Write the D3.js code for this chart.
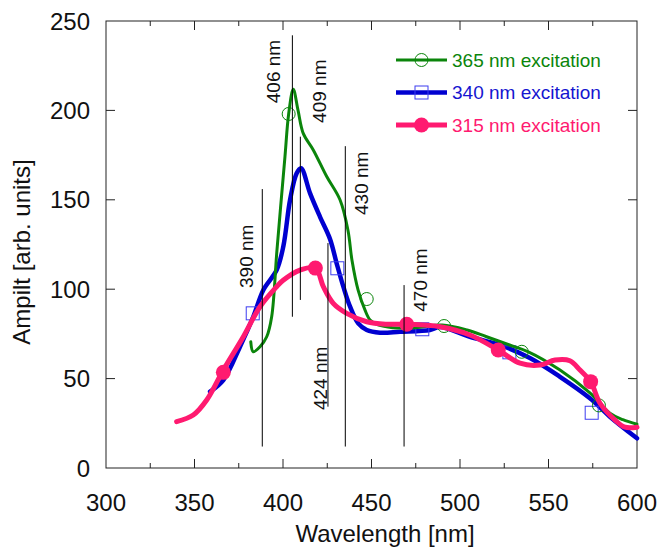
<!DOCTYPE html>
<html>
<head>
<meta charset="utf-8">
<script src="https://cdn.jsdelivr.net/npm/d3@7"></script>
<style>
	body { margin: 0; background: #fff; }
	text { font-family: Arial, "Liberation Sans", sans-serif; }
</style>
</head>
<body>
<div id="chart"></div>
<script>
// 365 nm excitation (green)
const greenX = [381.8, 383.2, 387, 390.8, 393.6, 396.6, 401.1, 403.2, 405.8, 408.5, 411.5, 417.1, 424.7, 432.2, 436.7, 439, 442.4, 446.3, 449.2, 453.7, 462, 475, 490, 504, 515, 528, 538.6, 556.5, 573.4, 584.7, 592, 600];
const greenY = [70.6, 65, 67.8, 73.4, 84.6, 122, 174, 198, 211.8, 200, 187, 177.9, 163, 150, 133, 116, 99.6, 88.4, 82.8, 80, 78.5, 78.5, 80, 77.2, 73.4, 68.8, 65, 54.8, 42, 30.7, 27, 24.5];
const greenMarks = [[403.2, 198], [447.3, 94.5], [491, 79.4], [534.9, 65], [578.5, 35]];

// 340 nm excitation (blue)
const blueX = [358.8, 366.3, 375.7, 383.2, 388.9, 396.4, 400.2, 404, 407.7, 410.2, 415.3, 420.9, 426.6, 430.3, 434.1, 437.9, 442.5, 447.3, 454.8, 466.1, 483, 488.7, 505.6, 522.6, 539.5, 556.5, 573.4, 584.7, 600];
const blueY = [42.7, 49.2, 67.8, 84.6, 99.6, 110.7, 124, 150, 164.8, 167.6, 153.6, 140.5, 128, 114.5, 101.4, 90.2, 80.9, 77.2, 75.7, 76.2, 77.2, 78.9, 73.4, 68.8, 61.5, 51, 39, 28.7, 16.6];
const blueMarks = [[382.9, 86.5], [430.7, 111.7], [478.7, 77.6], [527.9, 64.7], [574.4, 30.9]];

// 315 nm excitation (pink)
const pinkX = [339.9, 349.3, 356.9, 366.3, 377.6, 387, 396.4, 400.1, 409.6, 418.3, 422.8, 428.4, 436, 447.3, 458.6, 469.9, 488.7, 505.6, 521.6, 533.9, 545.2, 553.7, 562.1, 567.8, 573.8, 579.1, 587.6, 593.2, 600];
const pinkY = [25.9, 29.6, 38, 54.8, 73.4, 90.2, 101.4, 105, 110.7, 111.8, 101.4, 92.1, 86.5, 81.8, 80.4, 80.4, 79, 74.4, 66, 58.6, 57.6, 60.4, 60, 54.8, 48.3, 36.2, 26.8, 22.8, 22.8];
const pinkMarks = [[366.3, 53.5], [418.3, 111.8], [469.9, 80.4], [521.6, 66], [573.8, 48.3]];

const seriesNames = ['365 nm excitation', '340 nm excitation', '315 nm excitation'];

// peak markers: label, line x, line top/bottom, label anchor (x, y)
const annLabels = ['406 nm', '409 nm', '390 nm', '424 nm', '430 nm', '470 nm'];
const annX = [405.3, 409.8, 388.3, 425.4, 435.2, 468.4];
const annTop = [242, 185.3, 156, 125.8, 180, 102.3];
const annBottom = [84.6, 94, 12, 34.3, 12, 12];
const annTextX = [398.3, 424.3, 383.2, 424.7, 448, 481.2];
const annTextY = [204, 193, 100.7, 32.4, 141.5, 87.4];

const xTicks = [300, 350, 400, 450, 500, 550, 600];
const xMinorTicks = [325, 375, 425, 475, 525, 575];
const yTicks = [0, 50, 100, 150, 200, 250];

const width = 660;
const height = 548;
const margin = { top: 21, right: 23, bottom: 80, left: 106 };

const x = d3.scaleLinear()
	.domain([300, 600])
	.range([margin.left, width - margin.right]);

const y = d3.scaleLinear()
	.domain([0, 250])
	.range([height - margin.bottom, margin.top]);

const svg = d3.select('#chart')
	.append('svg')
	.attr('width', width)
	.attr('height', height);

// frame
svg.append('rect')
	.attr('x', x(300))
	.attr('y', y(250))
	.attr('width', x(600) - x(300))
	.attr('height', y(0) - y(250))
	.attr('fill', 'none')
	.attr('stroke', '#222')
	.attr('stroke-width', 1);

// inward ticks on all four sides
const tickG = svg.append('g')
	.attr('stroke', '#222')
	.attr('stroke-width', 1);

xTicks.slice(1, -1).forEach((t) => {
	tickG.append('line').attr('x1', x(t)).attr('x2', x(t)).attr('y1', y(0)).attr('y2', y(0) - 9);
	tickG.append('line').attr('x1', x(t)).attr('x2', x(t)).attr('y1', y(250)).attr('y2', y(250) + 9);
});
xMinorTicks.forEach((t) => {
	tickG.append('line').attr('x1', x(t)).attr('x2', x(t)).attr('y1', y(0)).attr('y2', y(0) - 5);
	tickG.append('line').attr('x1', x(t)).attr('x2', x(t)).attr('y1', y(250)).attr('y2', y(250) + 5);
});
yTicks.slice(1, -1).forEach((t) => {
	tickG.append('line').attr('x1', x(300)).attr('x2', x(300) + 9).attr('y1', y(t)).attr('y2', y(t));
	tickG.append('line').attr('x1', x(600)).attr('x2', x(600) - 9).attr('y1', y(t)).attr('y2', y(t));
});

// tick labels
svg.append('g')
	.selectAll('text')
	.data(xTicks)
	.join('text')
	.attr('x', (d) => x(d))
	.attr('y', 511)
	.attr('text-anchor', 'middle')
	.attr('font-size', 24)
	.attr('fill', '#111')
	.text((d) => d);

svg.append('g')
	.selectAll('text')
	.data(yTicks)
	.join('text')
	.attr('x', 90)
	.attr('y', (d) => y(d))
	.attr('dy', '.36em')
	.attr('text-anchor', 'end')
	.attr('font-size', 24)
	.attr('fill', '#111')
	.text((d) => d);

// axis titles
svg.append('text')
	.attr('x', 385)
	.attr('y', 542)
	.attr('text-anchor', 'middle')
	.attr('font-size', 24)
	.attr('fill', '#111')
	.text('Wavelength [nm]');

svg.append('text')
	.attr('transform', 'translate(30,252) rotate(-90)')
	.attr('text-anchor', 'middle')
	.attr('font-size', 24)
	.attr('fill', '#111')
	.text('Ampilt [arb. units]');

// curves
const series = [
	{ name: seriesNames[0], xs: greenX, ys: greenY, marks: greenMarks, color: '#0b850b', width: 3, shape: 'circle' },
	{ name: seriesNames[1], xs: blueX, ys: blueY, marks: blueMarks, color: '#0000d0', width: 4.5, shape: 'square' },
	{ name: seriesNames[2], xs: pinkX, ys: pinkY, marks: pinkMarks, color: '#ff1a70', width: 5, shape: 'dot' }
];

const line = d3.line()
	.x((d) => x(d[0]))
	.y((d) => y(d[1]))
	.curve(d3.curveCatmullRom.alpha(0.5));

function drawMarker (g, shape, color, cx, cy) {
	if (shape === 'circle') {
		g.append('circle')
			.attr('cx', cx).attr('cy', cy).attr('r', 6.5)
			.attr('fill', 'none').attr('stroke', color).attr('stroke-width', 1);
	} else if (shape === 'square') {
		g.append('rect')
			.attr('x', cx - 6.5).attr('y', cy - 6.5).attr('width', 13).attr('height', 13)
			.attr('fill', 'none').attr('stroke', '#3c3cf0').attr('stroke-width', 1);
	} else {
		g.append('circle')
			.attr('cx', cx).attr('cy', cy).attr('r', 7.5)
			.attr('fill', color);
	}
}

// draw blue first, then green, then pink on top
[1, 0, 2].forEach((i) => {
	const s = series[i];
	const pts = s.xs.map((v, k) => [v, s.ys[k]]);
	const g = svg.append('g');
	g.append('path')
		.datum(pts)
		.attr('d', line)
		.attr('fill', 'none')
		.attr('stroke', s.color)
		.attr('stroke-width', s.width)
		.attr('stroke-linejoin', 'round')
		.attr('stroke-linecap', 'round');
	s.marks.forEach((m) => drawMarker(g, s.shape, s.color, x(m[0]), y(m[1])));
});

// peak lines and labels
const ann = svg.append('g');
annLabels.forEach((label, i) => {
	ann.append('line')
		.attr('x1', x(annX[i]))
		.attr('x2', x(annX[i]))
		.attr('y1', y(annTop[i]))
		.attr('y2', y(annBottom[i]))
		.attr('stroke', '#000')
		.attr('stroke-width', 1);
	ann.append('text')
		.attr('transform', `translate(${x(annTextX[i])},${y(annTextY[i])}) rotate(-90)`)
		.attr('font-size', 19)
		.attr('fill', '#111')
		.text(label);
});

// legend
const legend = svg.append('g');
series.forEach((s, i) => {
	const ly = 60 + i * 32.5;
	legend.append('line')
		.attr('x1', 396)
		.attr('x2', 447)
		.attr('y1', ly)
		.attr('y2', ly)
		.attr('stroke', s.color)
		.attr('stroke-width', s.width);
	drawMarker(legend, s.shape, s.color, 421.5, ly);
	legend.append('text')
		.attr('x', 452)
		.attr('y', ly)
		.attr('dy', '.36em')
		.attr('font-size', 19)
		.attr('fill', s.color === '#0000d0' ? '#1515d0' : s.color)
		.text(s.name);
});
</script>
</body>
</html>
